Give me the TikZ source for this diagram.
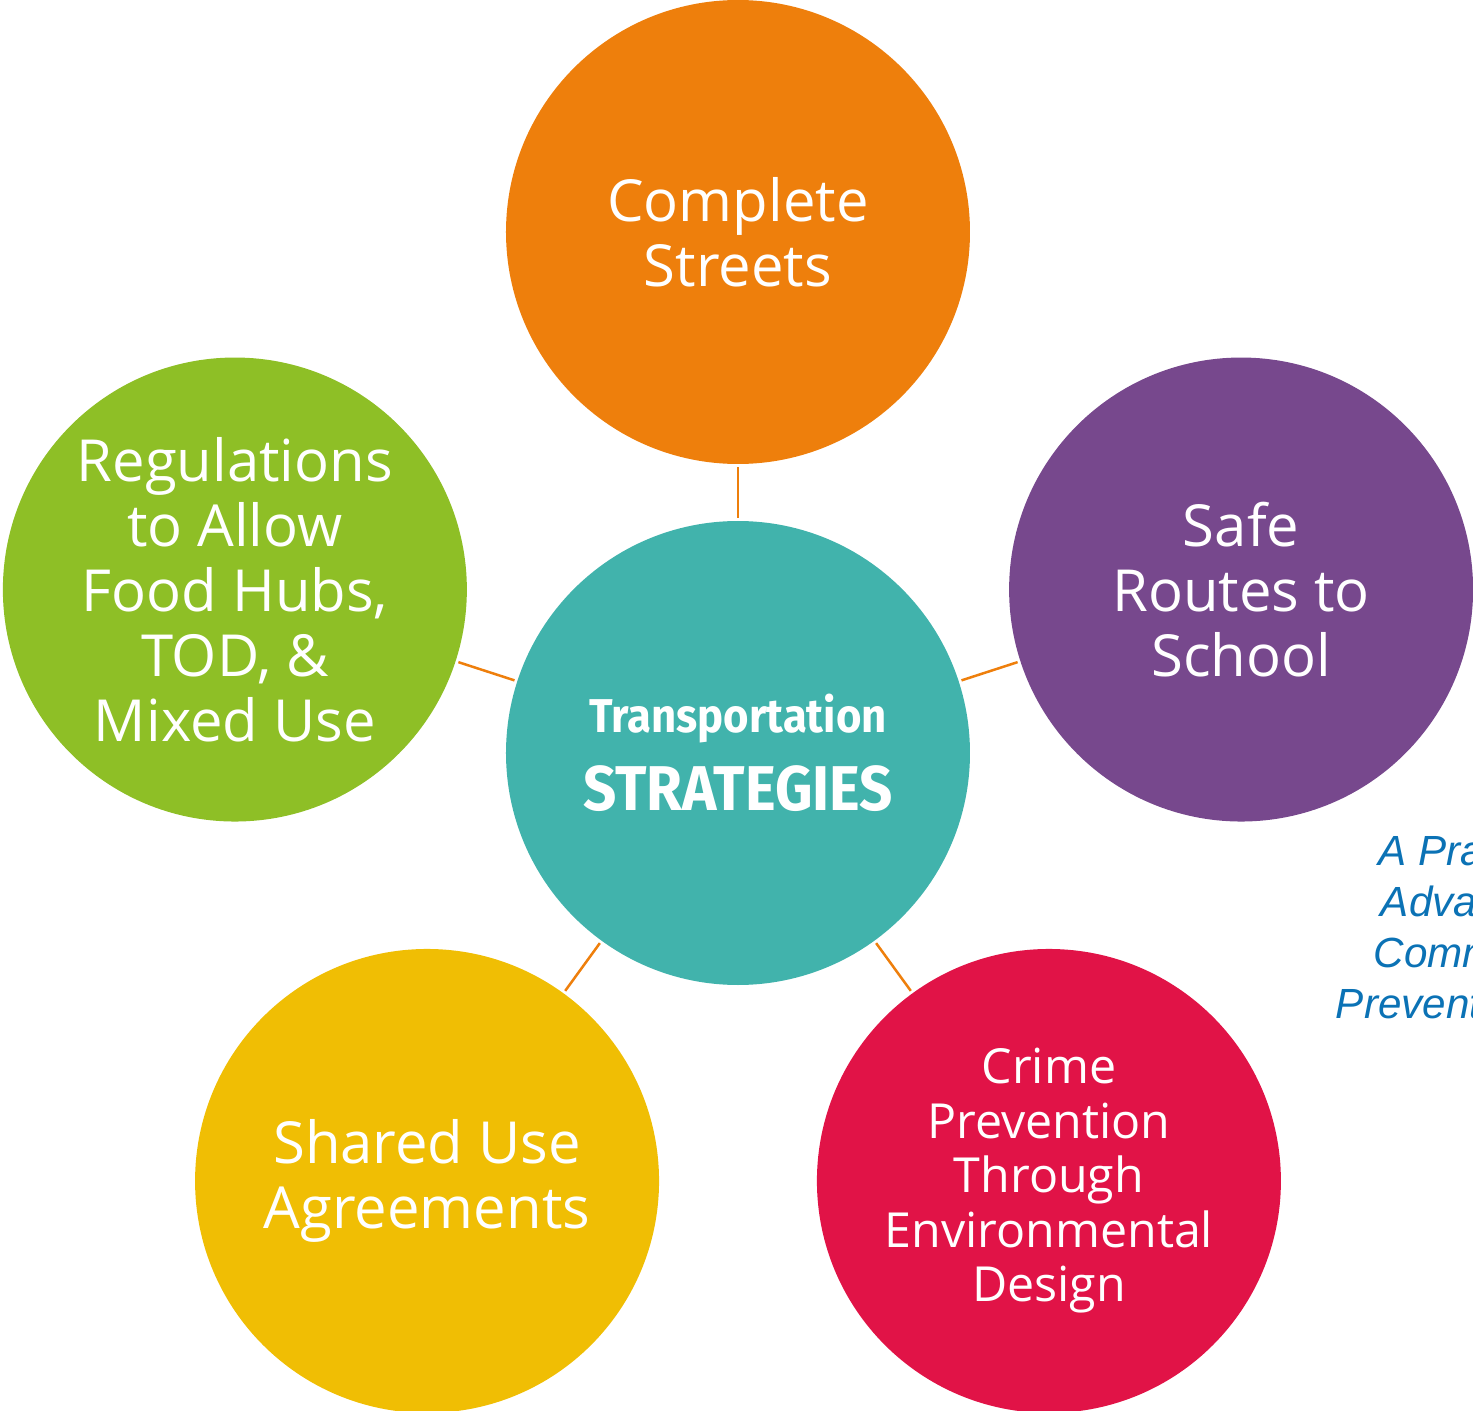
\documentclass[tikz,border=0pt]{standalone}
\usepackage{fontspec}
\setmainfont{Open Sans}
\newfontfamily\condfont[FakeStretch=0.92]{Fira Sans}
\newfontfamily\notefont{Liberation Sans}
\definecolor{stratteal}{HTML}{41B3AC}
\definecolor{streetsorange}{HTML}{EE7F0C}
\definecolor{routespurple}{HTML}{77488D}
\definecolor{regsgreen}{HTML}{8EBF26}
\definecolor{shareyellow}{HTML}{F0BE04}
\definecolor{crimered}{HTML}{E11347}
\definecolor{noteblue}{HTML}{0B72B5}
\tikzset{
  every picture/.style={
    line width=1pt
  },
  bubble/.style={circle, minimum size=9.28cm, inner sep=0pt, outer sep=0.06cm,
    text=white, align=center, font=\fontsize{33}{37}\selectfont},
  link/.style={draw=streetsorange, line width=0.05cm},
  note/.style={anchor=base west, inner sep=0pt, text=noteblue,
    font=\notefont\itshape\fontsize{24}{29}\selectfont}
}

\begin{document}
\begin{tikzpicture}
  \useasboundingbox (-14.76,-13.16) rectangle (14.70,15.06);
  \clip (-14.76,-13.16) rectangle (14.70,15.06);

  \node[bubble, fill=stratteal] (strat) at (0,0) {{\condfont\bfseries\fontsize{27}{30}\selectfont Transportation}\\[0.25cm]{\condfont\bfseries\fontsize{36}{40}\selectfont STRATEGIES}};
  \node[bubble, fill=streetsorange] (streets) at (90:10.42) {Complete\\Streets};
  \node[bubble, fill=routespurple] (routes) at (18:10.58) {Safe\\Routes to\\School};
  \node[bubble, fill=regsgreen] (regs) at (162:10.58) {Regulations\\to Allow\\Food Hubs,\\TOD, \&\\Mixed Use};
  \node[bubble, fill=shareyellow] (shared) at (234:10.58) {Shared Use\\Agreements};
  \node[bubble, fill=crimered, font=\fontsize{27.5}{31}\selectfont] (cpted) at (306:10.58) {Crime\\Prevention\\Through\\Environmental\\Design};

  \foreach \n in {streets, routes, regs, shared, cpted}
    \draw[link] (strat) -- (\n);

  \node[note] (note1) at (12.80,-2.24) {A Prac};
  \node[note] (note2) at (12.84,-3.26) {Advan};
  \node[note] (note3) at (12.70,-4.28) {Commu};
  \node[note] (note4) at (11.94,-5.30) {Preventi};
\end{tikzpicture}
\end{document}
